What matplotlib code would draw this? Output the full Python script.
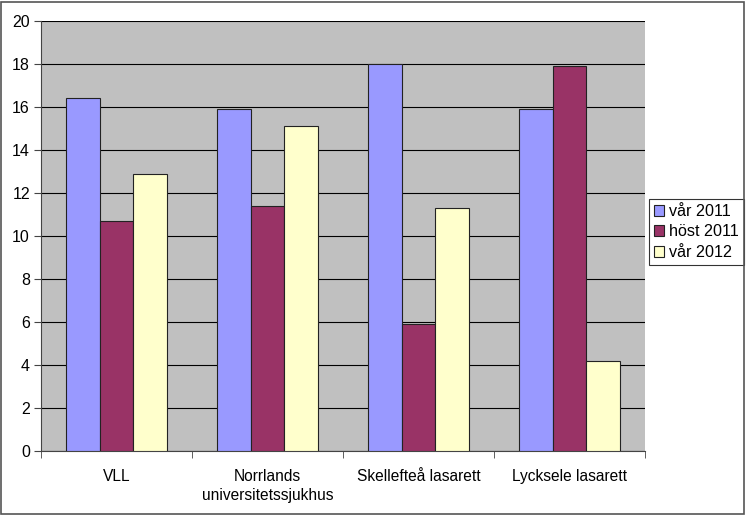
import matplotlib
matplotlib.use("Agg")
import matplotlib.pyplot as plt
import numpy as np
from matplotlib.patches import Rectangle

plt.rcParams['font.family'] = ['Liberation Sans', 'DejaVu Sans']

categories = ["VLL", "Norrlands\nuniversitetssjukhus", "Skellefteå lasarett", "Lycksele lasarett"]
series_names = ["vår 2011", "höst 2011", "vår 2012"]
var2011 = [16.4, 15.9, 18.0, 15.9]
host2011 = [10.7, 11.4, 5.9, 17.9]
var2012 = [12.9, 15.1, 11.3, 4.2]
yticks = [0, 2, 4, 6, 8, 10, 12, 14, 16, 18, 20]
colors = ["#9999FF", "#993366", "#FFFFCC"]

W, H = 746, 515
fig = plt.figure(figsize=(W / 100, H / 100), dpi=100)
fig.patch.set_facecolor("white")
ax = fig.add_axes([41 / W, 1 - 451 / H, (645 - 41) / W, (451 - 21) / H])
ax.set_facecolor("#C0C0C0")

x = np.arange(len(categories))
bw = 0.225
for i, (vals, c, name) in enumerate(zip([var2011, host2011, var2012], colors, series_names)):
    ax.bar(x + (i - 1) * bw, vals, width=bw, color=c, edgecolor="#222222",
           linewidth=0.8, label=name, zorder=3)

ax.set_xlim(-0.5, len(categories) - 0.5)
ax.set_ylim(0, 20)
ax.set_yticks(yticks)
ax.set_yticklabels([str(t) for t in yticks], fontsize=11.5)
ax.yaxis.grid(True, color="black", linewidth=0.8, zorder=1)
ax.set_axisbelow(True)

ax.set_xticks(x)
ax.set_xticklabels(categories, fontsize=11.2, linespacing=1.3)
ax.tick_params(axis="x", length=0, pad=13)
ax.set_xticks(np.arange(len(categories) + 1) - 0.5, minor=True)
ax.tick_params(axis="x", which="minor", length=5, direction="out", color="#444444")
ax.tick_params(axis="y", length=5, direction="out", color="#444444", pad=3)

for s in ["top", "right"]:
    ax.spines[s].set_visible(False)
ax.spines["left"].set_color("#444444")
ax.spines["bottom"].set_color("#444444")

leg = ax.legend(loc="upper left", bbox_to_anchor=(649 / W, 1 - 199 / H),
                bbox_transform=fig.transFigure, fontsize=11.6, frameon=True,
                fancybox=False, edgecolor="black", handlelength=0.65,
                handleheight=0.65, handletextpad=0.3, borderpad=0.3,
                labelspacing=0.35, borderaxespad=0)
leg.get_frame().set_linewidth(0.8)

fig.patches.append(Rectangle((1 / W, 1 / H), (W - 3) / W, (H - 3) / H,
                             transform=fig.transFigure, fill=False,
                             edgecolor="#555555", linewidth=1.2))

fig.savefig("out.png", dpi=100)
